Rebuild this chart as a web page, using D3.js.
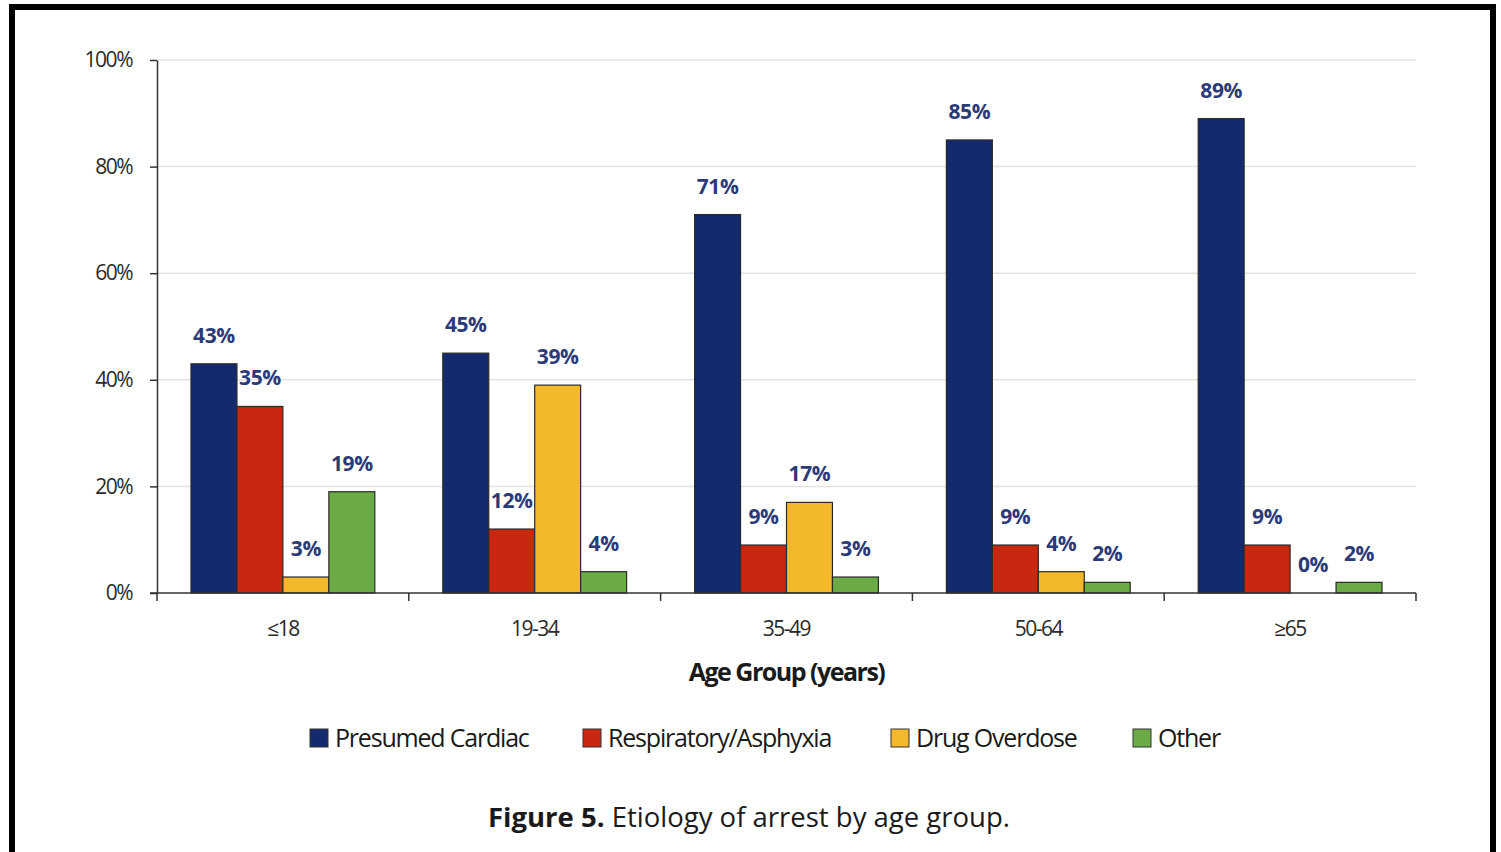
<!DOCTYPE html>
<html>
<head>
<meta charset="utf-8">
<script src="https://cdn.jsdelivr.net/npm/d3@7"></script>
<style>
  html, body { margin: 0; padding: 0; background: #fff; }
  svg { display: block; }
</style>
</head>
<body>
<svg id="chart" width="1501" height="852"></svg>
<script>
// Etiology of arrest by age group (% of arrests)
const ageGroups = ["\u226418", "19-34", "35-49", "50-64", "\u226565"];
const seriesNames = ["Presumed Cardiac", "Respiratory/Asphyxia", "Drug Overdose", "Other"];
const presumedCardiac = [43, 45, 71, 85, 89];
const respiratory = [35, 12, 9, 9, 9];
const drugOverdose = [3, 39, 17, 4, 0];
const other = [19, 4, 3, 2, 2];
const yTicks = [0, 20, 40, 60, 80, 100];
const seriesColors = ["#142a6e", "#c9270f", "#f4b82b", "#6aab45"];

const seriesValues = [presumedCardiac, respiratory, drugOverdose, other];

const svg = d3.select("#chart");
const fontFamily = "'Open Sans', 'Noto Sans', sans-serif";

// outer frame
svg.append("rect")
  .attr("x", 12).attr("y", 7)
  .attr("width", 1481).attr("height", 880)
  .attr("fill", "none")
  .attr("stroke", "#000")
  .attr("stroke-width", 6);

const plot = { left: 157, right: 1416, top: 60, bottom: 593 };

const x0 = d3.scaleBand()
  .domain(ageGroups)
  .range([plot.left, plot.right])
  .paddingInner(0.27)
  .paddingOuter(0.135);

const x1 = d3.scaleBand()
  .domain(seriesNames)
  .range([0, x0.bandwidth()])
  .padding(0);

const y = d3.scaleLinear().domain([0, 100]).range([plot.bottom, plot.top]);

const color = d3.scaleOrdinal().domain(seriesNames).range(seriesColors);

// gridlines
svg.append("g")
  .selectAll("line")
  .data(yTicks.filter(t => t > 0))
  .join("line")
  .attr("x1", plot.left).attr("x2", plot.right)
  .attr("y1", d => y(d)).attr("y2", d => y(d))
  .attr("stroke", "#e3e3e3")
  .attr("stroke-width", 1.5);

// y axis
const yAxis = svg.append("g")
  .attr("transform", `translate(${plot.left},0)`)
  .call(d3.axisLeft(y).tickValues(yTicks).tickFormat(d => d + "%").tickSize(7).tickSizeOuter(0));
yAxis.select(".domain").attr("stroke", "#333").attr("stroke-width", 1.5);
yAxis.selectAll(".tick line").attr("stroke", "#333").attr("stroke-width", 1.5);
yAxis.selectAll(".tick text")
  .attr("x", -25)
  .attr("font-family", fontFamily)
  .attr("font-size", 21)
  .attr("letter-spacing", -1.5)
  .attr("fill", "#2a2a2a");

// bars
const groups = svg.append("g")
  .selectAll("g")
  .data(ageGroups)
  .join("g")
  .attr("transform", d => `translate(${x0(d)},0)`);

const cells = groups.selectAll("g")
  .data((g, i) => seriesNames.map((s, j) => ({ series: s, value: seriesValues[j][i] })))
  .join("g");

cells.append("rect")
  .attr("x", d => x1(d.series))
  .attr("y", d => y(d.value))
  .attr("width", x1.bandwidth())
  .attr("height", d => y(0) - y(d.value))
  .attr("fill", d => color(d.series))
  .attr("stroke", "#2a2a2a")
  .attr("stroke-width", 1.2);

cells.append("text")
  .attr("x", d => x1(d.series) + x1.bandwidth() / 2)
  .attr("y", d => y(d.value) - 21)
  .attr("text-anchor", "middle")
  .attr("font-family", fontFamily)
  .attr("font-weight", 700)
  .attr("font-size", 21)
  .attr("letter-spacing", -0.4)
  .attr("fill", "#2b3a78")
  .text(d => d.value + "%");

// x axis with ticks at group boundaries
const xAxisG = svg.append("g");
xAxisG.append("line")
  .attr("x1", plot.left - 7).attr("x2", plot.right)
  .attr("y1", y(0)).attr("y2", y(0))
  .attr("stroke", "#333").attr("stroke-width", 1.5);
const boundaries = ageGroups.map(g => x0(g) - x0.step() * x0.paddingInner() / 2);
boundaries.push(plot.right);
xAxisG.selectAll("line.tk")
  .data(boundaries)
  .join("line")
  .attr("class", "tk")
  .attr("x1", d => d).attr("x2", d => d)
  .attr("y1", y(0)).attr("y2", y(0) + 8)
  .attr("stroke", "#333").attr("stroke-width", 1.5);
xAxisG.selectAll("text")
  .data(ageGroups)
  .join("text")
  .attr("x", d => x0(d) + x0.bandwidth() / 2)
  .attr("y", 636)
  .attr("text-anchor", "middle")
  .attr("font-family", fontFamily)
  .attr("font-size", 21)
  .attr("letter-spacing", -1.5)
  .attr("fill", "#2a2a2a")
  .text(d => d);

// axis title
svg.append("text")
  .attr("x", (plot.left + plot.right) / 2)
  .attr("y", 681)
  .attr("text-anchor", "middle")
  .attr("font-family", fontFamily)
  .attr("font-weight", 700)
  .attr("font-size", 25)
  .attr("letter-spacing", -1.5)
  .attr("fill", "#1a1a1a")
  .text("Age Group (years)");

// legend
const legendX = [310, 583, 891, 1133];
const legend = svg.append("g")
  .selectAll("g")
  .data(seriesNames)
  .join("g")
  .attr("transform", (d, i) => `translate(${legendX[i]},729)`);
legend.append("rect")
  .attr("width", 18).attr("height", 18)
  .attr("fill", d => color(d))
  .attr("stroke", "#333").attr("stroke-width", 1);
legend.append("text")
  .attr("x", 25)
  .attr("y", 18)
  .attr("font-family", fontFamily)
  .attr("font-size", 25)
  .attr("letter-spacing", -1.2)
  .attr("fill", "#1a1a1a")
  .text(d => d);

// caption
const caption = svg.append("text")
  .attr("x", 749)
  .attr("y", 827)
  .attr("text-anchor", "middle")
  .attr("font-family", fontFamily)
  .attr("font-size", 27.5)
  .attr("fill", "#1a1a1a");
caption.append("tspan").attr("font-weight", 700).text("Figure 5.");
caption.append("tspan").text(" Etiology of arrest by age group.");
</script>
</body>
</html>
